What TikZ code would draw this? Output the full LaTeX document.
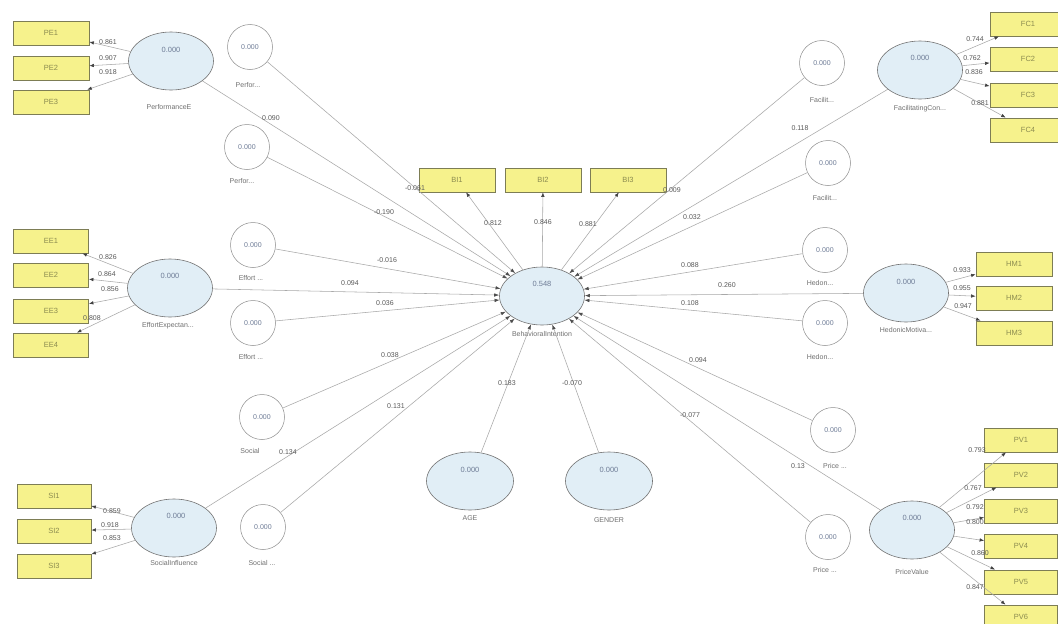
\documentclass[tikz,border=0pt]{standalone}
\usepackage{fontspec}
\setmainfont{Liberation Sans}
\usetikzlibrary{arrows.meta,shapes.geometric}
\definecolor{latfill}{HTML}{E1EEF6}
\definecolor{boxfill}{HTML}{F6F28C}
\definecolor{boxline}{HTML}{7D7D55}
\definecolor{boxtext}{HTML}{8C8C50}
\definecolor{valtext}{HTML}{6E7C96}
\definecolor{linec}{HTML}{A8A8A8}
\definecolor{txt}{HTML}{707070}
\begin{document}
\begin{tikzpicture}[x=1pt,y=-1pt,
  every node/.style={font=\fontsize{7}{8}\selectfont},
  lat/.style={ellipse,draw=black!55,fill=latfill,minimum width=85pt,minimum height=58pt,inner sep=0pt,line width=0.6pt},
  ind/.style={rectangle,draw=boxline,fill=boxfill,minimum width=76pt,minimum height=24pt,inner sep=0pt,line width=0.8pt,text=boxtext,font=\fontsize{7.5}{8.5}\selectfont},
  modc/.style={circle,draw=black!45,fill=white,minimum size=45pt,inner sep=0pt,line width=0.5pt,text=valtext},
  val/.style={text=valtext,inner sep=0pt,font=\fontsize{7.5}{8.5}\selectfont},
  lbl/.style={text=txt,inner sep=0pt},
  coef/.style={text=black!65,inner sep=0pt},
  pth/.style={draw=linec,line width=0.55pt,-{Latex[length=5pt,width=3.5pt,color=black!70]}},
  ldg/.style={draw=linec,line width=0.55pt,-{Latex[length=4.5pt,width=3.5pt,color=black!75]}},
]
\path[use as bounding box] (0,0) rectangle (1058,624);
\clip (0,0) rectangle (1058,624);
\fill[white] (0,0) rectangle (1058,624);

% ---------- central construct ----------
\node[lat] (bi) at (542,296) {};
\node[val] (biv) at (542,284) {0.548};
\node[lbl] (bil) at (542,334) {BehavioralIntention};
\node[ind] (bi1) at (457,180) {BI1};
\node[ind] (bi2) at (543,180) {BI2};
\node[ind] (bi3) at (628,180) {BI3};

% ---------- performance expectancy ----------
\node[lat] (pe) at (171,61) {};
\node[val] (pev) at (171,50) {0.000};
\node[lbl] (pel) at (169,107) {PerformanceE};
\node[ind] (pe1) at (51,33) {PE1};
\node[ind] (pe2) at (51,68) {PE2};
\node[ind] (pe3) at (51,102) {PE3};
\node[modc] (perf1) at (250,47) {0.000};
\node[lbl] (perf1l) at (248,85) {Perfor...};
\node[modc] (perf2) at (247,147) {0.000};
\node[lbl] (perf2l) at (242,181) {Perfor...};

% ---------- effort expectancy ----------
\node[lat] (ee) at (170,288) {};
\node[val] (eev) at (170,276) {0.000};
\node[lbl] (eel) at (168,326) {EffortExpectan...};
\node[ind,minimum width=75pt] (ee1) at (51,241) {EE1};
\node[ind,minimum width=75pt] (ee2) at (51,275) {EE2};
\node[ind,minimum width=75pt] (ee3) at (51,311) {EE3};
\node[ind,minimum width=75pt] (ee4) at (51,345) {EE4};
\node[modc] (eff1) at (253,245) {0.000};
\node[lbl] (eff1l) at (251,278) {Effort ...};
\node[modc] (eff2) at (253,323) {0.000};
\node[lbl] (eff2l) at (251,357) {Effort ...};

% ---------- social influence ----------
\node[lat] (si) at (174,528) {};
\node[val] (siv) at (176,516) {0.000};
\node[lbl] (sil) at (174,563) {SocialInfluence};
\node[ind,minimum width=74pt] (si1) at (54,496) {SI1};
\node[ind,minimum width=74pt] (si2) at (54,531) {SI2};
\node[ind,minimum width=74pt] (si3) at (54,566) {SI3};
\node[modc] (soc1) at (262,417) {0.000};
\node[lbl] (soc1l) at (250,451) {Social};
\node[modc] (soc2) at (263,527) {0.000};
\node[lbl] (soc2l) at (262,563) {Social ...};

% ---------- age and gender ----------
\node[lat,minimum width=87pt] (age) at (470,481) {};
\node[val] (agev) at (470,470) {0.000};
\node[lbl] (agel) at (470,518) {AGE};
\node[lat,minimum width=87pt] (gen) at (609,481) {};
\node[val] (genv) at (609,470) {0.000};
\node[lbl] (genl) at (609,520) {GENDER};

% ---------- facilitating conditions ----------
\node[lat] (fcn) at (920,70) {};
\node[val] (fcnv) at (920,58) {0.000};
\node[lbl] (fcnl) at (920,109) {FacilitatingCon...};
\node[ind] (fc1) at (1028,24) {FC1};
\node[ind] (fc2) at (1028,59) {FC2};
\node[ind] (fc3) at (1028,95) {FC3};
\node[ind] (fc4) at (1028,130) {FC4};
\node[modc] (fac1) at (822,63) {0.000};
\node[lbl] (fac1l) at (822,100) {Facilit...};
\node[modc] (fac2) at (828,163) {0.000};
\node[lbl] (fac2l) at (825,198) {Facilit...};

% ---------- hedonic motivation ----------
\node[lat] (hm) at (906,293) {};
\node[val] (hmv) at (906,282) {0.000};
\node[lbl] (hml) at (906,330) {HedonicMotiva...};
\node[ind] (hm1) at (1014,264) {HM1};
\node[ind] (hm2) at (1014,298) {HM2};
\node[ind] (hm3) at (1014,333) {HM3};
\node[modc] (hed1) at (825,250) {0.000};
\node[lbl] (hed1l) at (820,283) {Hedon...};
\node[modc] (hed2) at (825,323) {0.000};
\node[lbl] (hed2l) at (820,357) {Hedon...};

% ---------- price value ----------
\node[lat] (pv) at (912,530) {};
\node[val] (pvv) at (912,518) {0.000};
\node[lbl] (pvl) at (912,572) {PriceValue};
\node[ind,minimum width=73pt] (pv1) at (1021,440) {PV1};
\node[ind,minimum width=73pt] (pv2) at (1021,475) {PV2};
\node[ind,minimum width=73pt] (pv3) at (1021,511) {PV3};
\node[ind,minimum width=73pt] (pv4) at (1021,546) {PV4};
\node[ind,minimum width=73pt] (pv5) at (1021,582) {PV5};
\node[ind,minimum width=73pt] (pv6) at (1021,617) {PV6};
\node[modc] (pr1) at (833,430) {0.000};
\node[lbl] (pr1l) at (835,466) {Price ...};
\node[modc] (pr2) at (828,537) {0.000};
\node[lbl] (pr2l) at (825,570) {Price ...};

% ---------- structural paths ----------
\foreach \s in {pe,perf1,perf2,eff1,ee,eff2,soc1,si,soc2,age,gen,fac1,fcn,fac2,hed1,hm,hed2,pr1,pv,pr2}
  \draw[pth] (\s) -- (bi);

% ---------- measurement paths ----------
\foreach \t in {bi1,bi2,bi3} \draw[ldg] (bi) -- (\t);
\foreach \t in {pe1,pe2,pe3} \draw[ldg] (pe) -- (\t);
\foreach \t in {ee1,ee2,ee3,ee4} \draw[ldg] (ee) -- (\t);
\foreach \t in {si1,si2,si3} \draw[ldg] (si) -- (\t);
\foreach \t in {fc1,fc2,fc3,fc4} \draw[ldg] (fcn) -- (\t);
\foreach \t in {hm1,hm2,hm3} \draw[ldg] (hm) -- (\t);
\foreach \t in {pv1,pv2,pv3,pv4,pv5,pv6} \draw[ldg] (pv) -- (\t);

% ---------- path coefficients ----------
\node[coef] (c1) at (271,118) {0.090};
\node[coef] (c2) at (415,188) {-0.061};
\node[coef] (c3) at (384,212) {-0.190};
\node[coef] (c4) at (387,260) {-0.016};
\node[coef] (c5) at (350,283) {0.094};
\node[coef] (c6) at (385,303) {0.036};
\node[coef] (c7) at (390,355) {0.038};
\node[coef] (c8) at (288,452) {0.134};
\node[coef] (c9) at (396,406) {0.131};
\node[coef] (c10) at (507,383) {0.183};
\node[coef] (c11) at (572,383) {-0.070};
\node[coef] (c12) at (672,190) {0.009};
\node[coef] (c13) at (800,128) {0.118};
\node[coef] (c14) at (692,217) {0.032};
\node[coef] (c15) at (690,265) {0.088};
\node[coef] (c16) at (727,285) {0.260};
\node[coef] (c17) at (690,303) {0.108};
\node[coef] (c18) at (698,360) {0.094};
\node[coef] (c19) at (798,466) {0.13};
\node[coef] (c20) at (690,415) {-0.077};

% ---------- loadings ----------
\node[coef] (l1) at (108,42) {0.861};
\node[coef] (l2) at (108,58) {0.907};
\node[coef] (l3) at (108,72) {0.918};
\node[coef] (l4) at (108,257) {0.826};
\node[coef] (l5) at (107,274) {0.864};
\node[coef] (l6) at (110,289) {0.856};
\node[coef] (l7) at (92,318) {0.808};
\node[coef] (l8) at (112,511) {0.859};
\node[coef] (l9) at (110,525) {0.918};
\node[coef] (l10) at (112,538) {0.853};
\node[coef] (l11) at (493,223) {0.812};
\node[coef] (l12) at (543,222) {0.846};
\node[coef] (l13) at (588,224) {0.881};
\node[coef] (l14) at (975,39) {0.744};
\node[coef] (l15) at (972,58) {0.762};
\node[coef] (l16) at (974,72) {0.836};
\node[coef] (l17) at (980,103) {0.881};
\node[coef] (l18) at (962,270) {0.933};
\node[coef] (l19) at (962,288) {0.955};
\node[coef] (l20) at (963,306) {0.947};
\node[coef] (l21) at (977,450) {0.793};
\node[coef] (l22) at (973,488) {0.767};
\node[coef] (l23) at (975,507) {0.792};
\node[coef] (l24) at (975,522) {0.800};
\node[coef] (l25) at (980,553) {0.860};
\node[coef] (l26) at (975,587) {0.847};
\end{tikzpicture}
\end{document}
